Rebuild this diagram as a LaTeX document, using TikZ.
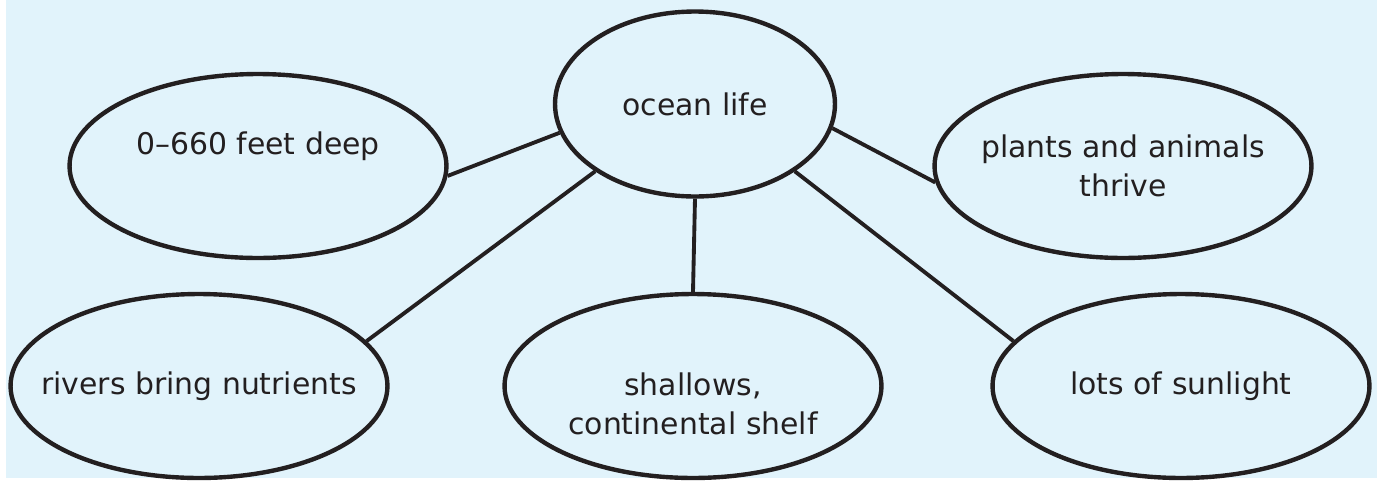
\documentclass[tikz,border=0pt]{standalone}
\usepackage{fontspec}
\setmainfont{DejaVu Sans}
\usepackage{tikz}
\usetikzlibrary{shapes.geometric}
\definecolor{sea}{HTML}{E1F3FB}
\definecolor{ink}{HTML}{231F20}
\tikzset{bubble/.style={ellipse,draw=ink,line width=2.5pt,inner sep=0pt,minimum width=7.54cm,minimum height=3.68cm}}
\tikzset{words/.style={text=ink,align=center,inner sep=0pt,font=\fontsize{17}{22.5}\selectfont}}
\tikzset{spoke/.style={draw=ink,line width=2.2pt}}

\begin{document}
\begin{tikzpicture}[x=0.02cm,y=-0.02cm]
\useasboundingbox (0,0) rectangle (1377,481);
\fill[sea] (6,0) rectangle (1377,478);
\node[bubble,minimum width=5.6cm,minimum height=3.7cm,label={[words]center:ocean life}] (ocean) at (695,104) {};
\node[bubble,label={[words,yshift=0.4cm]center:0--660 feet deep}] (deep) at (258,166) {};
\node[bubble,label={[words]center:plants and animals\\thrive}] (plants) at (1123,166) {};
\node[bubble,label={[words]center:rivers bring nutrients}] (rivers) at (199,386) {};
\node[bubble,label={[words,yshift=-0.36cm]center:shallows,\\continental shelf}] (shallows) at (693,386) {};
\node[bubble,label={[words]center:lots of sunlight}] (sunlight) at (1181,386) {};
\draw[spoke] (ocean.192) -- (deep.-3);
\draw[spoke] (ocean.214) -- (rivers.15);
\draw[spoke] (ocean.south) -- (shallows.north);
\draw[spoke] (ocean.-10) -- (plants.185);
\draw[spoke] (ocean.-34) -- (sunlight.165);
\end{tikzpicture}
\end{document}
